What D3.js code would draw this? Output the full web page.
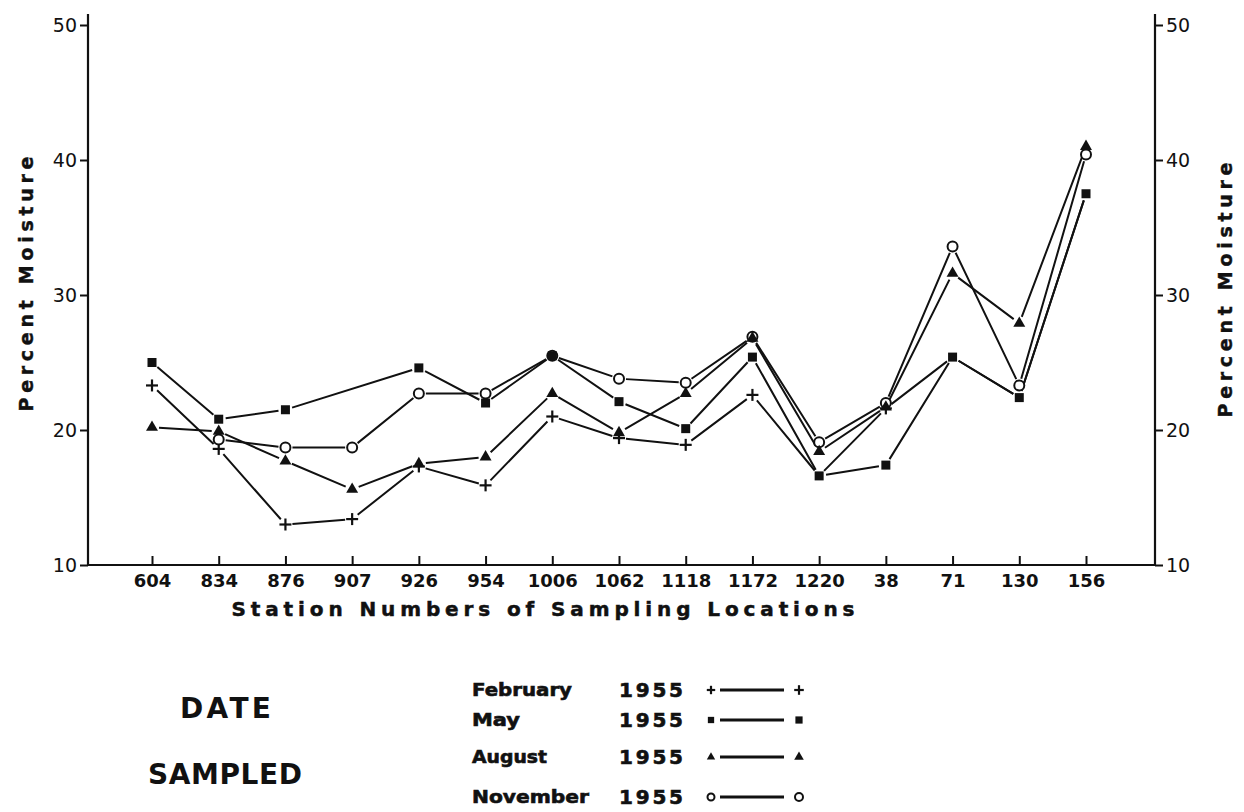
<!DOCTYPE html>
<html>
<head>
<meta charset="utf-8">
<script src="https://cdn.jsdelivr.net/npm/d3@7"></script>
<style>
  body { margin: 0; background: #fff; }
  text { font-family: "DejaVu Sans", Verdana, sans-serif; fill: #111; }
</style>
</head>
<body>
<svg id="chart" width="1244" height="812"></svg>
<script>
// station numbers along the bottom
const stations = ["604", "834", "876", "907", "926", "954", "1006", "1062", "1118", "1172", "1220", "38", "71", "130", "156"];
const yTicks = [10, 20, 30, 40, 50];

// percent moisture per sampling date (null = not plotted)
const february = [23.3, 18.6, 13.0, 13.4, 17.3, 15.9, 21.0, 19.4, 18.9, 22.6, 16.6, 21.6, 25.4, 22.4, 37.5];
const may      = [25.0, 20.8, 21.5, null, 24.6, 22.0, 25.5, 22.1, 20.1, 25.4, 16.6, 17.4, 25.4, 22.4, 37.5];
const august   = [20.2, 19.9, 17.7, 15.6, 17.5, 18.0, 22.7, 19.8, 22.7, 26.8, 18.4, 21.7, 31.6, 27.9, 41.0];
const november = [null, 19.3, 18.7, 18.7, 22.7, 22.7, 25.5, 23.8, 23.5, 26.9, 19.1, 22.0, 33.6, 23.3, 40.4];

const legendNames = ["February", "May", "August", "November"];
const legendYear = "1955";

const series = [
  { name: "February", values: february, mark: "plus" },
  { name: "May", values: may, mark: "square" },
  { name: "August", values: august, mark: "triangle" },
  { name: "November", values: november, mark: "circle" }
];

const svg = d3.select("#chart");

const x = d3.scalePoint().domain(stations).range([152, 1086]);
const y = d3.scaleLinear().domain([10, 50]).range([565, 25]);

const leftX = 88, rightX = 1155, topY = 14;

// axis lines
svg.append("line").attr("x1", leftX).attr("x2", leftX).attr("y1", topY).attr("y2", y(10))
  .attr("stroke", "#111").attr("stroke-width", 2.2);
svg.append("line").attr("x1", rightX).attr("x2", rightX).attr("y1", topY).attr("y2", y(10))
  .attr("stroke", "#111").attr("stroke-width", 2.2);
svg.append("line").attr("x1", leftX).attr("x2", rightX).attr("y1", y(10)).attr("y2", y(10))
  .attr("stroke", "#111").attr("stroke-width", 2.2);

function styleAxis(g, size, weight) {
  g.select(".domain").remove();
  g.selectAll(".tick line").attr("stroke", "#111").attr("stroke-width", 2);
  g.selectAll(".tick text").attr("font-size", size).attr("font-weight", weight)
    .attr("font-family", "DejaVu Sans, sans-serif").attr("fill", "#111");
}

svg.append("g").attr("transform", `translate(${leftX},0)`)
  .call(d3.axisLeft(y).tickValues(yTicks).tickSize(8).tickPadding(3))
  .call(styleAxis, 19, "normal");

svg.append("g").attr("transform", `translate(${rightX},0)`)
  .call(d3.axisRight(y).tickValues(yTicks).tickSize(8).tickPadding(3))
  .call(styleAxis, 19, "normal");

svg.append("g").attr("transform", `translate(0,${y(10)})`)
  .call(d3.axisBottom(x).tickSize(-9).tickPadding(9))
  .call(styleAxis, 18, "bold");

// axis titles
svg.append("text").attr("x", 543).attr("y", 616).attr("text-anchor", "middle")
  .attr("font-size", 20).attr("font-weight", "bold")
  .attr("stroke", "#111").attr("stroke-width", 0.5)
  .attr("textLength", 623).attr("lengthAdjust", "spacing")
  .text("Station Numbers of Sampling Locations");

svg.append("text").attr("transform", "translate(33,284) rotate(-90)")
  .attr("text-anchor", "middle").attr("font-size", 19).attr("font-weight", "bold")
  .attr("stroke", "#111").attr("stroke-width", 0.4)
  .attr("textLength", 255).attr("lengthAdjust", "spacing")
  .text("Percent Moisture");

svg.append("text").attr("transform", "translate(1232,290) rotate(-90)")
  .attr("text-anchor", "middle").attr("font-size", 19).attr("font-weight", "bold")
  .attr("stroke", "#111").attr("stroke-width", 0.4)
  .attr("textLength", 255).attr("lengthAdjust", "spacing")
  .text("Percent Moisture");

// lines, drawn with a small gap before each marker
const gap = 7;
function gappedPath(vals) {
  const pts = stations.map((s, i) => [x(s), vals[i] == null ? null : y(vals[i])])
    .filter(p => p[1] != null);
  let d = "";
  for (let i = 0; i < pts.length - 1; i++) {
    const [x0, y0] = pts[i], [x1, y1] = pts[i + 1];
    const len = Math.hypot(x1 - x0, y1 - y0);
    const ux = (x1 - x0) / len, uy = (y1 - y0) / len;
    d += `M${x0 + ux * gap},${y0 + uy * gap}L${x1 - ux * gap},${y1 - uy * gap}`;
  }
  return d;
}

series.forEach(s => {
  svg.append("path").attr("d", gappedPath(s.values))
    .attr("fill", "none").attr("stroke", "#111").attr("stroke-width", 2);
});

function drawMark(g, type, cx, cy, k) {
  if (type === "plus") {
    g.append("line").attr("x1", cx - 6 * k).attr("x2", cx + 6 * k).attr("y1", cy).attr("y2", cy)
      .attr("stroke", "#111").attr("stroke-width", 2.2);
    g.append("line").attr("x1", cx).attr("x2", cx).attr("y1", cy - 6 * k).attr("y2", cy + 6 * k)
      .attr("stroke", "#111").attr("stroke-width", 2.2);
  } else if (type === "square") {
    g.append("rect").attr("x", cx - 4.5 * k).attr("y", cy - 4.5 * k)
      .attr("width", 9 * k).attr("height", 9 * k).attr("fill", "#111");
  } else if (type === "triangle") {
    g.append("path").attr("d", d3.symbol(d3.symbolTriangle, 62 * k * k)())
      .attr("transform", `translate(${cx},${cy})`).attr("fill", "#111");
  } else {
    g.append("circle").attr("cx", cx).attr("cy", cy).attr("r", 5 * k)
      .attr("fill", "#fff").attr("stroke", "#111").attr("stroke-width", 2);
  }
}

// a plus that falls on a May square is hidden under it, as in the original
const markOrder = ["plus", "circle", "square", "triangle"];
const marks = svg.append("g");
markOrder.forEach(m => {
  const s = series.find(d => d.mark === m);
  s.values.forEach((v, i) => {
    if (v == null) return;
    if (m === "plus" && may[i] === v) return;
    drawMark(marks, m, x(stations[i]), y(v), 1);
  });
});

// legend
svg.append("text").attr("x", 180).attr("y", 718).attr("font-size", 28).attr("font-weight", "bold")
  .attr("textLength", 91).attr("lengthAdjust", "spacing").text("DATE");
svg.append("text").attr("x", 148).attr("y", 784).attr("font-size", 28).attr("font-weight", "bold")
  .attr("textLength", 154).attr("lengthAdjust", "spacing").text("SAMPLED");

const rowY = [690, 720, 757, 797];
const nameWidth = [100, 48, 75, 117];
const lg = svg.append("g");
legendNames.forEach((n, i) => {
  const cy = rowY[i];
  lg.append("text").attr("x", 472).attr("y", cy + 6).attr("font-size", 17).attr("font-weight", "bold")
    .attr("stroke", "#111").attr("stroke-width", 0.6)
    .attr("textLength", nameWidth[i]).attr("lengthAdjust", "spacingAndGlyphs").text(n);
  lg.append("text").attr("x", 619).attr("y", cy + 7).attr("font-size", 20).attr("font-weight", "bold")
    .attr("stroke", "#111").attr("stroke-width", 0.6)
    .attr("textLength", 64).attr("lengthAdjust", "spacing").text(legendYear);
  lg.append("line").attr("x1", 720).attr("x2", 784).attr("y1", cy).attr("y2", cy)
    .attr("stroke", "#111").attr("stroke-width", 3);
  drawMark(lg, series[i].mark, 711, cy, 0.7);
  drawMark(lg, series[i].mark, 799, cy, 0.8);
});
</script>
</body>
</html>
